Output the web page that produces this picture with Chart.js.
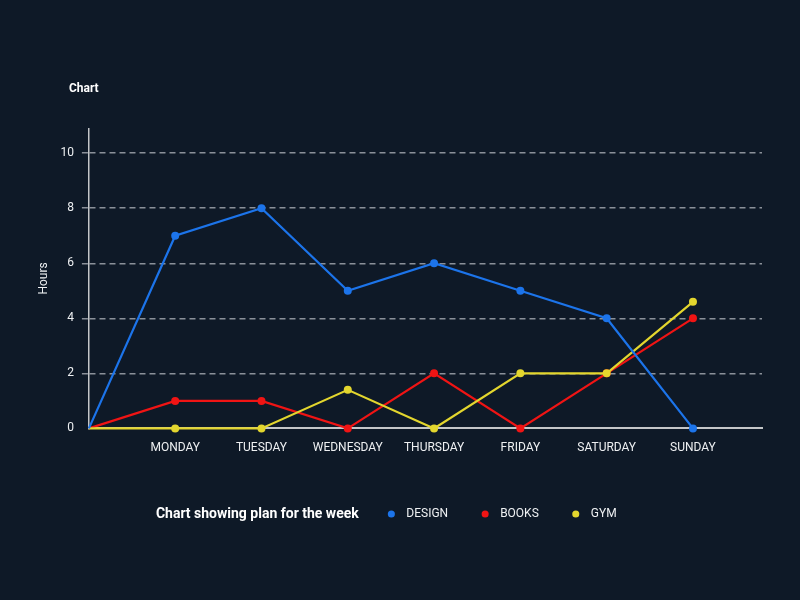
<!DOCTYPE html>
<html>
<head>
<meta charset="utf-8">
<title>Week plan</title>
<script src="https://cdn.jsdelivr.net/npm/chart.js@4.4.1/dist/chart.umd.min.js"></script>
<style>
  html, body { margin: 0; padding: 0; background: #0e1927; }
</style>
</head>
<body>
<canvas id="week-chart" width="800" height="600"></canvas>
<script>
// Chart data
const dayLabels = ['', 'MONDAY', 'TUESDAY', 'WEDNESDAY', 'THURSDAY', 'FRIDAY', 'SATURDAY', 'SUNDAY'];
const designHours = [0, 7, 8, 5, 6, 5, 4, 0];
const booksHours = [0, 1, 1, 0, 2, 0, 2, 4];
const gymHours = [0, 0, 0, 1.4, 0, 2, 2, 4.6];
const yTicks = [0, 2, 4, 6, 8, 10];

const captionText = 'Chart showing plan for the week';
const textColor = '#eef0f2';

Chart.defaults.font.family = 'Roboto, "Noto Sans", sans-serif';
Chart.defaults.color = textColor;

// turn a value list into {x, y} points (x = day index)
function toPoints(values) {
    return values.map((v, i) => ({ x: i, y: v }));
}

function makeDataset(label, values, color, order) {
    return {
        label: label,
        data: toPoints(values),
        borderColor: color,
        backgroundColor: color,
        borderWidth: 2.2,
        pointRadius: ctx => ctx.dataIndex === 0 ? 0 : 4,
        pointHoverRadius: 5,
        pointBorderWidth: 0,
        pointStyle: 'circle',
        tension: 0,
        clip: false,
        order: order
    };
}

// Moves title / legend next to the plot, and writes the bold caption
const captionPlugin = {
    id: 'caption',
    afterLayout(chart) {
        const area = chart.chartArea;
        chart.titleBlock.left = area.left - 20;
        chart.legend.left = area.left + 18;
    },
    afterDraw(chart) {
        const box = chart.legend.legendHitBoxes[0];
        if (!box) return;
        const ctx = chart.ctx;
        ctx.save();
        ctx.font = 'bold 14px Roboto';
        ctx.fillStyle = '#ffffff';
        ctx.textBaseline = 'middle';
        ctx.fillText(captionText, box.left + 18, box.top + box.height / 2 + 0.5);
        ctx.restore();
    }
};

const ctx = document.getElementById('week-chart').getContext('2d');

const chart = new Chart(ctx, {
    type: 'line',
    data: {
        datasets: [
            makeDataset('DESIGN', designHours, '#1c74ea', 0),
            makeDataset('BOOKS', booksHours, '#f01414', 2),
            makeDataset('GYM', gymHours, '#e3d62e', 1)
        ]
    },
    options: {
        responsive: false,
        animation: false,
        layout: {
            padding: { top: 0, left: 33, right: 38, bottom: 70 }
        },
        scales: {
            x: {
                type: 'linear',
                min: 0,
                max: 7.8,
                grid: { display: false, drawTicks: false },
                border: { display: true, color: '#c4c6c8', width: 2 },
                ticks: {
                    stepSize: 1,
                    includeBounds: false,
                    autoSkip: false,
                    maxRotation: 0,
                    padding: 12,
                    color: textColor,
                    font: { size: 12 },
                    callback: value => dayLabels[value] || ''
                }
            },
            y: {
                min: 0,
                max: 10.9,
                afterBuildTicks: scale => {
                    scale.ticks = yTicks.map(v => ({ value: v }));
                },
                grid: {
                    color: c => (c.tick && c.tick.value === 0) ? 'transparent' : 'rgba(160,166,174,0.85)',
                    lineWidth: 1.5,
                    tickLength: 7,
                    tickBorderDash: [6, 4]
                },
                border: { display: true, color: '#c4c6c8', width: 1.5, dash: [6, 4] },
                ticks: {
                    padding: 8,
                    color: textColor,
                    font: { size: 12 }
                },
                title: {
                    display: true,
                    text: 'Hours',
                    color: textColor,
                    font: { size: 12 },
                    padding: { top: 4, bottom: 1 }
                }
            }
        },
        plugins: {
            title: {
                display: true,
                text: 'Chart',
                align: 'start',
                color: '#ffffff',
                font: { size: 12, weight: 'bold' },
                padding: { top: 82, bottom: 32 }
            },
            legend: {
                position: 'bottom',
                align: 'start',
                title: {
                    display: true,
                    text: '',
                    font: { size: 1 },
                    padding: { top: 0, bottom: 9 }
                },
                labels: {
                    usePointStyle: true,
                    boxWidth: 12,
                    boxHeight: 5,
                    padding: 31,
                    color: textColor,
                    font: { size: 12 },
                    generateLabels(chart) {
                        const items = Chart.defaults.plugins.legend.labels.generateLabels(chart)
                            .sort((a, b) => a.datasetIndex - b.datasetIndex);
                        items.forEach(item => {
                            item.lineWidth = 0;
                            item.text = ' ' + item.text; // a little more room after the dot
                        });
                        // placeholder item that reserves room for the bold caption
                        const captionItem = {
                            text: captionText + '         ',
                            fillStyle: 'transparent',
                            strokeStyle: 'transparent',
                            fontColor: 'transparent',
                            lineWidth: 0,
                            pointStyle: 'circle',
                            hidden: false
                        };
                        return [captionItem].concat(items);
                    }
                }
            },
            tooltip: { enabled: true }
        }
    },
    plugins: [captionPlugin]
});
</script>
</body>
</html>
